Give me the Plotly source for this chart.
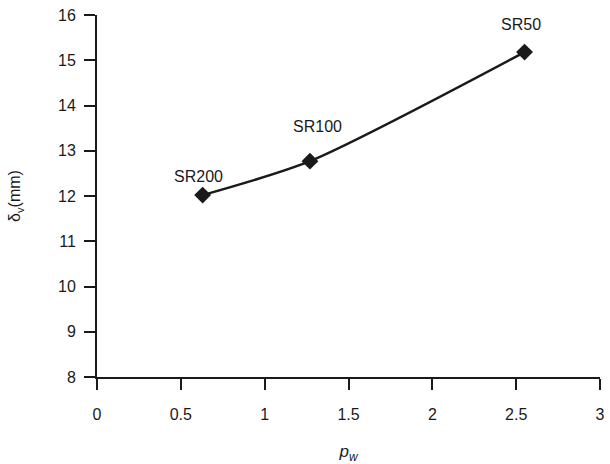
import plotly.graph_objects as go

pw = [0.63, 1.27, 2.55]
delta_v = [12.02, 12.77, 15.18]
labels = ["SR200", "SR100", "SR50"]
x_ticks = [0, 0.5, 1, 1.5, 2, 2.5, 3]
x_ticklabels = ["0", "0.5", "1", "1.5", "2", "2.5", "3"]
y_ticks = [8, 9, 10, 11, 12, 13, 14, 15, 16]

INK = "#1a1a1a"
FONT = "Liberation Sans, Arial, sans-serif"

fig = go.Figure()
fig.add_trace(go.Scatter(
    x=pw, y=delta_v, mode="lines+markers",
    line=dict(color=INK, width=2.5, shape="spline", smoothing=0.7),
    marker=dict(symbol="diamond", size=13, color=INK),
    cliponaxis=False, showlegend=False,
))

# label offsets (pixels) relative to each marker
label_dx = [-4, 8, -4]
label_dy = [19, 35, 28]
for xv, yv, t, dx, dy in zip(pw, delta_v, labels, label_dx, label_dy):
    fig.add_annotation(x=xv, y=yv, text=t, showarrow=False,
                       xshift=dx, yshift=dy,
                       font=dict(family=FONT, size=16, color=INK))

axis_common = dict(
    showgrid=False, zeroline=False, showline=True, linecolor=INK, linewidth=2,
    ticks="outside", ticklen=11, tickwidth=2, tickcolor=INK,
    tickfont=dict(family=FONT, size=16, color=INK), automargin=False,
)

fig.update_layout(
    width=610, height=464,
    margin=dict(l=97, r=10, t=15, b=87),
    paper_bgcolor="white", plot_bgcolor="white",
    xaxis=dict(range=[0, 3], tickvals=x_ticks, ticktext=x_ticklabels,
               ticklabelstandoff=11,
               title=dict(text="<i>p</i><sub><i>w</i></sub>",
                          font=dict(family=FONT, size=17, color=INK), standoff=28),
               **axis_common),
    yaxis=dict(range=[8, 16], tickvals=y_ticks, ticklabelstandoff=5,
               title=dict(text="δ<sub>v</sub>(mm)",
                          font=dict(family=FONT, size=16, color=INK), standoff=33),
               **axis_common),
)

fig.write_html("out.html")
